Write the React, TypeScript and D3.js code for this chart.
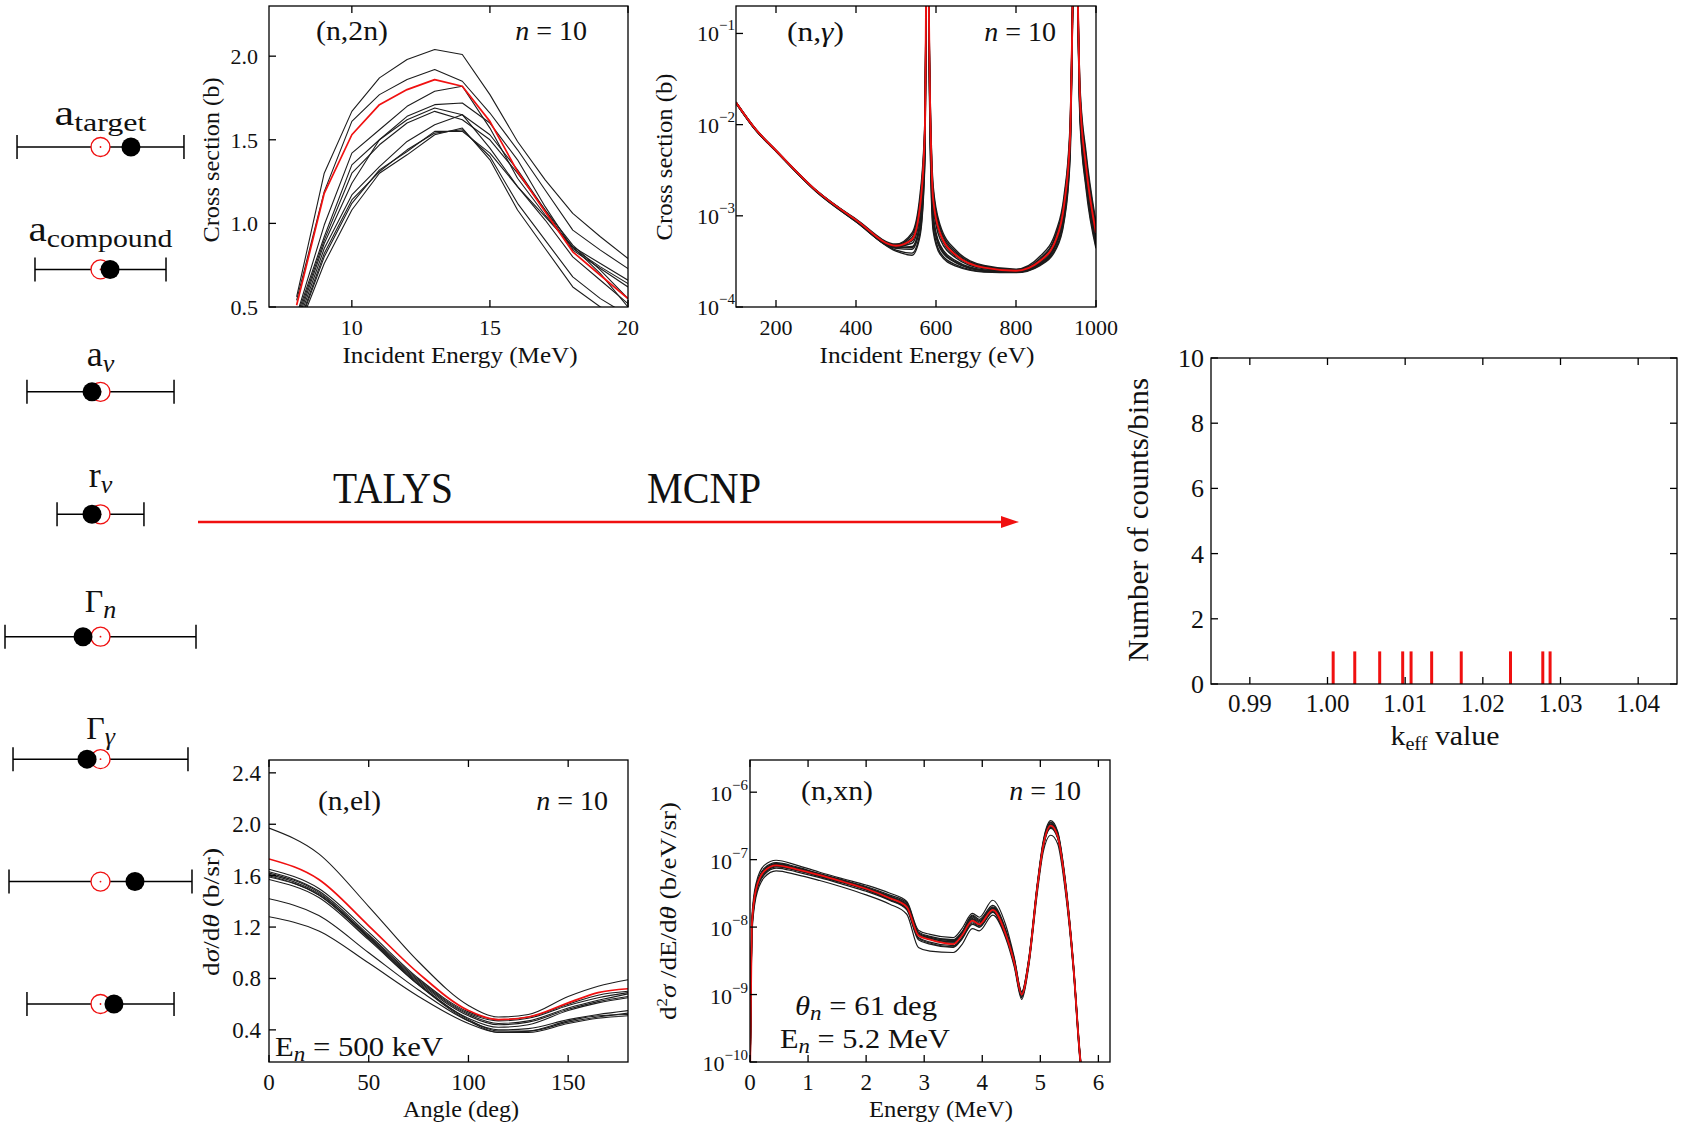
import React from "react";
import * as d3 from "d3";

const FONT = "'Liberation Serif','Times New Roman',Times,serif";
const RED = "#f01010";
const INK = "#111";
const BLACK_LINE = "#1c1c1c";

// ---------------- parameter column ----------------
const PARAM_SYMBOL = ["a", "a", "a", "r", "\u0393", "\u0393", "", ""];
const PARAM_SUB = ["target", "compound", "v", "v", "n", "\u03b3", "", ""];
const PARAM_SUB_ITALIC = [false, false, true, true, true, true, false, false];
const PARAM_LOW = [-0.874, -0.686, -0.77, -0.455, -1.0, -0.916, -0.958, -0.77];
const PARAM_HIGH = [0.874, 0.686, 0.77, 0.455, 1.0, 0.916, 0.958, 0.77];
const PARAM_NOMINAL = [0, 0, 0, 0, 0, 0, 0, 0];
const PARAM_SAMPLED = [0.319, 0.1, -0.089, -0.089, -0.183, -0.141, 0.361, 0.141];

// ---------------- (n,2n) ----------------
const N2N_ENERGY = [8, 9, 10, 11, 12, 13, 14, 15, 16, 17, 18, 19, 20];
const N2N_NOMINAL = [0.51, 1.18, 1.53, 1.71, 1.8, 1.86, 1.82, 1.61, 1.31, 1.07, 0.83, 0.69, 0.55];
const N2N_SAMPLES = [
  [0.56, 1.3, 1.67, 1.87, 1.98, 2.04, 2.01, 1.77, 1.49, 1.26, 1.06, 0.92, 0.79],
  [0.54, 1.19, 1.61, 1.77, 1.86, 1.92, 1.85, 1.66, 1.44, 1.2, 0.96, 0.84, 0.73],
  [0.45, 0.99, 1.42, 1.56, 1.7, 1.79, 1.82, 1.57, 1.27, 1.05, 0.86, 0.76, 0.66],
  [0.44, 0.92, 1.35, 1.5, 1.64, 1.71, 1.72, 1.6, 1.38, 1.1, 0.85, 0.74, 0.64],
  [0.4, 0.88, 1.24, 1.5, 1.62, 1.69, 1.65, 1.53, 1.32, 1.08, 0.84, 0.73, 0.62],
  [0.38, 0.85, 1.17, 1.34, 1.49, 1.59, 1.65, 1.45, 1.22, 1.02, 0.8, 0.66, 0.52],
  [0.36, 0.82, 1.14, 1.31, 1.44, 1.54, 1.56, 1.4, 1.12, 0.9, 0.68, 0.55, 0.45],
  [0.34, 0.76, 1.08, 1.3, 1.41, 1.53, 1.57, 1.38, 1.08, 0.85, 0.62, 0.5, 0.42],
  [0.35, 0.8, 1.12, 1.32, 1.43, 1.55, 1.55, 1.42, 1.22, 1.04, 0.86, 0.7, 0.5],
  [0.42, 0.9, 1.3, 1.47, 1.6, 1.67, 1.62, 1.5, 1.3, 1.08, 0.87, 0.72, 0.55],
];
const N2N_XTICKS = [10, 15, 20];
const N2N_YTICKS = [0.5, 1.0, 1.5, 2.0];

// ---------------- (n,gamma) ----------------
const NG_ENERGY = [100, 150, 200, 300, 400, 500, 540, 560, 572, 578, 585, 593, 610, 650, 720, 800, 860, 900, 920, 935, 948, 960, 975, 1000];
const NG_NOMINAL = [1.75e-2, 8.8e-3, 5.2e-3, 1.9e-3, 9.0e-4, 4.7e-4, 5.5e-4, 1.26e-3, 8e-3, 3, 1.9e-2, 1.5e-3, 6.5e-4, 3.7e-4, 2.7e-4, 2.5e-4, 3.2e-4, 5.5e-4, 1.3e-3, 7e-3, 3, 1.9e-2, 3.5e-3, 6.5e-4];
const NG_SAMPLES = [
  [1.72e-2, 8.6e-3, 5.1e-3, 1.85e-3, 8.6e-4, 4.2e-4, 3.9e-4, 6.5e-4, 4.0e-3, 3, 9e-3, 7.5e-4, 4.0e-4, 2.9e-4, 2.45e-4, 2.4e-4, 2.9e-4, 4.5e-4, 9e-4, 4.5e-3, 3, 1.2e-2, 2.2e-3, 4.6e-4],
  [1.74e-2, 8.7e-3, 5.15e-3, 1.88e-3, 8.8e-4, 4.5e-4, 4.6e-4, 8.5e-4, 5.5e-3, 3, 1.3e-2, 1.0e-3, 4.8e-4, 3.2e-4, 2.55e-4, 2.45e-4, 3.0e-4, 5.0e-4, 1.1e-3, 5.8e-3, 3, 1.5e-2, 2.8e-3, 5.3e-4],
  [1.76e-2, 8.8e-3, 5.2e-3, 1.9e-3, 9.1e-4, 4.8e-4, 6.2e-4, 1.5e-3, 9.5e-3, 3, 2.3e-2, 1.9e-3, 7.5e-4, 4.0e-4, 2.8e-4, 2.55e-4, 3.4e-4, 6.3e-4, 1.5e-3, 8.5e-3, 3, 2.4e-2, 4.5e-3, 8e-4],
  [1.73e-2, 8.6e-3, 5.1e-3, 1.86e-3, 8.7e-4, 4.4e-4, 4.3e-4, 7.5e-4, 4.8e-3, 3, 1.1e-2, 8.8e-4, 4.4e-4, 3.05e-4, 2.5e-4, 2.42e-4, 2.95e-4, 4.8e-4, 1.0e-3, 5.2e-3, 3, 1.35e-2, 2.5e-3, 5.0e-4],
  [1.75e-2, 8.8e-3, 5.2e-3, 1.9e-3, 9.0e-4, 4.7e-4, 5.3e-4, 1.2e-3, 7.5e-3, 3, 1.8e-2, 1.4e-3, 6.2e-4, 3.6e-4, 2.68e-4, 2.5e-4, 3.15e-4, 5.4e-4, 1.25e-3, 6.8e-3, 3, 1.85e-2, 3.3e-3, 6.2e-4],
  [1.77e-2, 8.9e-3, 5.25e-3, 1.92e-3, 9.2e-4, 4.9e-4, 6.5e-4, 1.7e-3, 1.05e-2, 3, 2.5e-2, 2.1e-3, 8e-4, 4.2e-4, 2.85e-4, 2.6e-4, 3.6e-4, 6.8e-4, 1.65e-3, 9.5e-3, 3, 2.6e-2, 5.0e-3, 8.5e-4],
  [1.74e-2, 8.7e-3, 5.15e-3, 1.88e-3, 8.9e-4, 4.6e-4, 5.0e-4, 1.0e-3, 6.5e-3, 3, 1.6e-2, 1.25e-3, 5.6e-4, 3.45e-4, 2.62e-4, 2.48e-4, 3.1e-4, 5.3e-4, 1.2e-3, 6.3e-3, 3, 1.7e-2, 3.0e-3, 5.8e-4],
  [1.72e-2, 8.6e-3, 5.1e-3, 1.85e-3, 8.6e-4, 4.1e-4, 3.7e-4, 6.0e-4, 3.6e-3, 3, 8e-3, 6.8e-4, 3.8e-4, 2.8e-4, 2.42e-4, 2.38e-4, 2.85e-4, 4.3e-4, 8.5e-4, 4.0e-3, 3, 1.1e-2, 2.0e-3, 4.4e-4],
  [1.76e-2, 8.8e-3, 5.2e-3, 1.9e-3, 9.0e-4, 4.75e-4, 5.8e-4, 1.35e-3, 8.5e-3, 3, 2.0e-2, 1.7e-3, 7.0e-4, 3.85e-4, 2.75e-4, 2.52e-4, 3.3e-4, 6.0e-4, 1.4e-3, 7.8e-3, 3, 2.1e-2, 4.0e-3, 7.2e-4],
  [1.73e-2, 8.7e-3, 5.15e-3, 1.87e-3, 8.8e-4, 4.5e-4, 4.5e-4, 8.0e-4, 5.2e-3, 3, 1.2e-2, 9.5e-4, 4.6e-4, 3.1e-4, 2.52e-4, 2.44e-4, 3.0e-4, 4.9e-4, 1.05e-3, 5.5e-3, 3, 1.4e-2, 2.6e-3, 5.0e-4],
];
const NG_XTICKS = [200, 400, 600, 800, 1000];
const NG_YTICKS = [1e-4, 1e-3, 1e-2, 1e-1];

// ---------------- (n,el) ----------------
const EL_ANGLE = [0, 25, 50, 75, 100, 115, 130, 150, 165, 180];
const EL_NOMINAL = [1.73, 1.57, 1.21, 0.84, 0.55, 0.48, 0.5, 0.61, 0.69, 0.72];
const EL_SAMPLES = [
  [1.97, 1.77, 1.36, 0.93, 0.59, 0.5, 0.52, 0.66, 0.74, 0.79],
  [1.65, 1.5, 1.16, 0.8, 0.54, 0.48, 0.5, 0.6, 0.67, 0.7],
  [1.63, 1.48, 1.14, 0.79, 0.53, 0.47, 0.49, 0.59, 0.65, 0.69],
  [1.61, 1.46, 1.13, 0.78, 0.52, 0.45, 0.47, 0.57, 0.63, 0.68],
  [1.6, 1.45, 1.12, 0.77, 0.51, 0.44, 0.46, 0.56, 0.62, 0.66],
  [1.57, 1.43, 1.1, 0.75, 0.49, 0.42, 0.44, 0.55, 0.61, 0.65],
  [1.42, 1.29, 1.0, 0.71, 0.47, 0.4, 0.41, 0.48, 0.52, 0.55],
  [1.28, 1.17, 0.92, 0.66, 0.45, 0.38, 0.39, 0.47, 0.51, 0.52],
  [1.62, 1.47, 1.12, 0.76, 0.48, 0.39, 0.39, 0.46, 0.5, 0.53],
  [1.59, 1.45, 1.11, 0.75, 0.47, 0.38, 0.38, 0.45, 0.49, 0.51],
];
const EL_XTICKS = [0, 50, 100, 150];
const EL_YTICKS = [0.4, 0.8, 1.2, 1.6, 2.0, 2.4];

// ---------------- (n,xn) ----------------
const XN_ENERGY = [0, 0.03, 0.1, 0.25, 0.45, 0.8, 1.2, 1.6, 2.0, 2.4, 2.7, 2.9, 3.1, 3.5, 3.65, 3.83, 3.95, 4.18, 4.4, 4.55, 4.68, 4.8, 4.95, 5.05, 5.18, 5.3, 5.42, 5.57, 5.68, 5.76];
const XN_NOMINAL = [5e-11, 1.0e-8, 3.5e-8, 6.8e-8, 8.2e-8, 7.2e-8, 5.9e-8, 4.7e-8, 3.7e-8, 2.7e-8, 2.0e-8, 7.5e-9, 6.5e-9, 5.6e-9, 7.5e-9, 1.25e-8, 1.1e-8, 1.8e-8, 8e-9, 3e-9, 1e-9, 3e-9, 4e-8, 1.6e-7, 3.2e-7, 2.2e-7, 5e-8, 2.6e-9, 1.3e-10, 3e-11];
const XN_SAMPLES = [
  [6e-11, 1.3e-8, 4.3e-8, 8.3e-8, 9.8e-8, 8.3e-8, 6.5e-8, 5.2e-8, 4.2e-8, 3.2e-8, 2.4e-8, 9.0e-9, 7.8e-9, 7.0e-9, 9.5e-9, 1.6e-8, 1.4e-8, 2.5e-8, 1.1e-8, 3.6e-9, 1.1e-9, 3.4e-9, 4.6e-8, 1.9e-7, 3.8e-7, 2.6e-7, 6e-8, 3.0e-9, 1.5e-10, 3e-11],
  [5e-11, 1.1e-8, 3.9e-8, 7.5e-8, 9.0e-8, 7.8e-8, 6.2e-8, 5.0e-8, 4.0e-8, 3.0e-8, 2.3e-8, 8.5e-9, 7.3e-9, 6.5e-9, 8.5e-9, 1.45e-8, 1.25e-8, 2.0e-8, 9e-9, 3.3e-9, 1.05e-9, 3.2e-9, 4.3e-8, 1.75e-7, 3.5e-7, 2.4e-7, 5.5e-8, 2.8e-9, 1.4e-10, 3e-11],
  [5e-11, 1.0e-8, 3.6e-8, 7.0e-8, 8.5e-8, 7.4e-8, 6.0e-8, 4.8e-8, 3.8e-8, 2.85e-8, 2.15e-8, 8.0e-9, 6.9e-9, 6.1e-9, 8.0e-9, 1.35e-8, 1.15e-8, 1.9e-8, 8.5e-9, 3.1e-9, 1.0e-9, 3.1e-9, 4.1e-8, 1.65e-7, 3.3e-7, 2.3e-7, 5.2e-8, 2.7e-9, 1.35e-10, 3e-11],
  [5e-11, 9e-9, 3.3e-8, 6.5e-8, 8.0e-8, 7.0e-8, 5.7e-8, 4.6e-8, 3.6e-8, 2.6e-8, 1.9e-8, 7.0e-9, 6.0e-9, 5.3e-9, 7.0e-9, 1.2e-8, 1.05e-8, 1.75e-8, 7.8e-9, 2.9e-9, 0.95e-9, 2.9e-9, 3.9e-8, 1.55e-7, 3.1e-7, 2.15e-7, 4.8e-8, 2.5e-9, 1.25e-10, 3e-11],
  [4e-11, 8e-9, 3.0e-8, 6.0e-8, 7.5e-8, 6.6e-8, 5.4e-8, 4.3e-8, 3.4e-8, 2.5e-8, 1.8e-8, 6.5e-9, 5.6e-9, 5.0e-9, 6.6e-9, 1.1e-8, 1.0e-8, 1.65e-8, 7.5e-9, 2.8e-9, 0.9e-9, 2.8e-9, 3.7e-8, 1.5e-7, 3.0e-7, 2.1e-7, 4.6e-8, 2.4e-9, 1.2e-10, 3e-11],
  [4e-11, 7e-9, 2.7e-8, 5.5e-8, 6.8e-8, 6.0e-8, 4.9e-8, 3.9e-8, 3.0e-8, 2.2e-8, 1.55e-8, 5.0e-9, 4.4e-9, 4.2e-9, 5.5e-9, 9.5e-9, 8.8e-9, 1.5e-8, 7e-9, 2.6e-9, 0.85e-9, 2.6e-9, 3.3e-8, 1.3e-7, 2.3e-7, 1.7e-7, 4.0e-8, 2.2e-9, 1.1e-10, 3e-11],
  [5e-11, 1.05e-8, 3.8e-8, 7.2e-8, 8.8e-8, 7.6e-8, 6.1e-8, 4.9e-8, 3.9e-8, 2.9e-8, 2.2e-8, 8.2e-9, 7.1e-9, 6.3e-9, 8.4e-9, 1.5e-8, 1.3e-8, 2.1e-8, 9.5e-9, 3.4e-9, 1.1e-9, 3.3e-9, 4.4e-8, 1.8e-7, 3.6e-7, 2.5e-7, 5.6e-8, 2.8e-9, 1.4e-10, 3e-11],
  [4e-11, 8.5e-9, 3.1e-8, 6.2e-8, 7.8e-8, 6.9e-8, 5.6e-8, 4.5e-8, 3.55e-8, 2.55e-8, 1.85e-8, 6.8e-9, 5.8e-9, 5.1e-9, 6.8e-9, 1.15e-8, 1.0e-8, 1.7e-8, 7.6e-9, 2.85e-9, 0.92e-9, 2.85e-9, 3.8e-8, 1.5e-7, 2.9e-7, 2.05e-7, 4.6e-8, 2.4e-9, 1.2e-10, 3e-11],
  [5e-11, 9.5e-9, 3.4e-8, 6.7e-8, 8.3e-8, 7.3e-8, 5.9e-8, 4.75e-8, 3.75e-8, 2.75e-8, 2.05e-8, 7.6e-9, 6.6e-9, 5.8e-9, 7.7e-9, 1.3e-8, 1.12e-8, 1.85e-8, 8.2e-9, 3.0e-9, 1.0e-9, 3.0e-9, 4.0e-8, 1.6e-7, 3.25e-7, 2.25e-7, 5.0e-8, 2.6e-9, 1.3e-10, 3e-11],
  [4.5e-11, 1.0e-8, 3.5e-8, 6.9e-8, 8.6e-8, 7.5e-8, 6.05e-8, 4.85e-8, 3.85e-8, 2.8e-8, 2.1e-8, 7.8e-9, 6.8e-9, 6.0e-9, 8.2e-9, 1.4e-8, 1.2e-8, 1.95e-8, 8.7e-9, 3.2e-9, 1.0e-9, 3.1e-9, 4.2e-8, 1.7e-7, 3.4e-7, 2.35e-7, 5.3e-8, 2.7e-9, 1.35e-10, 3e-11],
];
const XN_XTICKS = [0, 1, 2, 3, 4, 5, 6];
const XN_YTICKS = [1e-10, 1e-9, 1e-8, 1e-7, 1e-6];

// ---------------- k_eff histogram ----------------
const KEFF_VALUES = [1.00073, 1.00351, 1.00672, 1.00968, 1.01076, 1.01341, 1.01722, 1.02356, 1.02772, 1.02866];
const KEFF_COUNTS = [1, 1, 1, 1, 1, 1, 1, 1, 1, 1];
const KEFF_XTICKS = [0.99, 1.0, 1.01, 1.02, 1.03, 1.04];
const KEFF_YTICKS = [0, 2, 4, 6, 8, 10];

// ---------------- scales ----------------
const n2nX = d3.scaleLinear().domain([7, 20]).range([269, 628]);
const n2nY = d3.scaleLinear().domain([0.5, 2.3]).range([307, 6]);
const ngX = d3.scaleLinear().domain([100, 1000]).range([736, 1096]);
const ngY = d3.scaleLog().domain([1e-4, 0.2]).range([307, 6]);
const elX = d3.scaleLinear().domain([0, 180]).range([269, 628]);
const elY = d3.scaleLinear().domain([0.15, 2.5]).range([1062, 760]);
const xnX = d3.scaleLinear().domain([0, 6.2]).range([750, 1110]);
const xnY = d3.scaleLog().domain([1e-10, 3e-6]).range([1062, 760]);
const hX = d3.scaleLinear().domain([0.985, 1.045]).range([1211, 1677]);
const hY = d3.scaleLinear().domain([0, 10]).range([684, 358]);
const pX = d3.scaleLinear().domain([-1, 1]).range([5, 196]);
const pRow = d3.scalePoint<number>().domain(d3.range(8)).range([147, 1004]);

const LABEL_GAP = [22, 28, 26, 27, 25, 20, 0, 0];
const LABEL_LEN = [92, 144, 0, 0, 0, 0, 0, 0];

function Frame({ xs, ys, xTicks, yTicks, right = false }: any) {
  const [x0, x1] = xs.range();
  const [yb, yt] = ys.range();
  const L = 7;
  return (
    <g stroke="#000" strokeWidth={1.3} fill="none">
      <rect x={x0} y={yt} width={x1 - x0} height={yb - yt} />
      {xTicks.map((t: number, i: number) => (
        <g key={"x" + i}>
          <line x1={xs(t)} x2={xs(t)} y1={yb} y2={yb - L} />
          <line x1={xs(t)} x2={xs(t)} y1={yt} y2={yt + L} />
        </g>
      ))}
      {yTicks.map((t: number, i: number) => (
        <g key={"y" + i}>
          <line x1={x0} x2={x0 + L} y1={ys(t)} y2={ys(t)} />
          {right && <line x1={x1} x2={x1 - L} y1={ys(t)} y2={ys(t)} />}
        </g>
      ))}
    </g>
  );
}

function XLabels({ xs, ticks, y, fmt, size }: any) {
  return (
    <g fontSize={size} textAnchor="middle" fill={INK}>
      {ticks.map((t: number, i: number) => (
        <text key={i} x={xs(t)} y={y}>{fmt(t)}</text>
      ))}
    </g>
  );
}

function YLabels({ ys, ticks, xEnd, dy, fmt, size }: any) {
  return (
    <g fontSize={size} textAnchor="end" fill={INK}>
      {ticks.map((t: number, i: number) => (
        <text key={i} x={xEnd} y={ys(t) + dy}>{fmt(t)}</text>
      ))}
    </g>
  );
}

function LogYLabels({ ys, ticks, xEnd, dy, size, supSize, supDy }: any) {
  return (
    <g fontSize={size} textAnchor="end" fill={INK}>
      {ticks.map((t: number, i: number) => {
        const e = Math.round(Math.log10(t));
        return (
          <text key={i} x={xEnd} y={ys(t) + dy}>
            10<tspan fontSize={supSize} dy={supDy}>{"\u2212" + Math.abs(e)}</tspan>
          </text>
        );
      })}
    </g>
  );
}

function Curves({ id, xs, ys, xv, samples, nominal, curve, bw = 1.1, rw = 1.7 }: any) {
  const [x0, x1] = xs.range();
  const [yb, yt] = ys.range();
  const gen = d3
    .line<number>()
    .x((_, i) => xs(xv[i]))
    .y((v) => ys(v))
    .curve(curve);
  return (
    <g>
      <clipPath id={id}>
        <rect x={x0} y={yt} width={x1 - x0} height={yb - yt} />
      </clipPath>
      <g clipPath={`url(#${id})`} fill="none" strokeLinejoin="round">
        {samples.map((s: number[], k: number) => (
          <path key={k} d={gen(s) || ""} stroke={BLACK_LINE} strokeWidth={bw} />
        ))}
        <path d={gen(nominal) || ""} stroke={RED} strokeWidth={rw} />
      </g>
    </g>
  );
}

function NEq({ x, y }: any) {
  return (
    <text x={x} y={y} fontSize={28} textAnchor="end" fill={INK}>
      <tspan fontStyle="italic">n</tspan> = 10
    </text>
  );
}

const f1 = d3.format(".1f");
const f2 = d3.format(".2f");
const fInt = d3.format("d");

export default function App() {
  return (
    <div style={{ position: "absolute", left: 0, top: 0, background: "#fff" }}>
      <svg width={1682} height={1124} viewBox="0 0 1682 1124" style={{ display: "block", fontFamily: FONT }}>
        <rect width={1682} height={1124} fill="#fff" />

        {/* ---------- parameter column ---------- */}
        <g>
          {PARAM_LOW.map((lo, i) => {
            const yy = pRow(i) as number;
            const capH = 12;
            return (
              <g key={i}>
                <g stroke="#000" strokeWidth={1.5}>
                  <line x1={pX(lo)} x2={pX(PARAM_HIGH[i])} y1={yy} y2={yy} />
                  <line x1={pX(lo)} x2={pX(lo)} y1={yy - capH} y2={yy + capH} />
                  <line x1={pX(PARAM_HIGH[i])} x2={pX(PARAM_HIGH[i])} y1={yy - capH} y2={yy + capH} />
                </g>
                <circle cx={pX(PARAM_NOMINAL[i])} cy={yy} r={9.5} fill="#fff" stroke={RED} strokeWidth={1.3} />
                <circle cx={pX(PARAM_NOMINAL[i])} cy={yy} r={0.9} fill={RED} />
                <circle cx={pX(PARAM_SAMPLED[i])} cy={yy} r={9.5} fill="#000" />
                {PARAM_SYMBOL[i] && (
                  <text
                    x={pX(0)}
                    y={yy - LABEL_GAP[i]}
                    textAnchor="middle"
                    fill={INK}
                    {...(LABEL_LEN[i] ? { textLength: LABEL_LEN[i], lengthAdjust: "spacingAndGlyphs" } : {})}
                  >
                    <tspan fontSize={PARAM_SYMBOL[i] === "\u0393" ? 32 : 36}>{PARAM_SYMBOL[i]}</tspan>
                    <tspan fontSize={26} dy={6} fontStyle={PARAM_SUB_ITALIC[i] ? "italic" : "normal"}>
                      {PARAM_SUB[i]}
                    </tspan>
                  </text>
                )}
              </g>
            );
          })}
        </g>

        {/* ---------- arrow ---------- */}
        <g>
          <text x={333} y={503} fontSize={44} textLength={120} lengthAdjust="spacingAndGlyphs" fill={INK}>TALYS</text>
          <text x={647} y={503} fontSize={44} textLength={114} lengthAdjust="spacingAndGlyphs" fill={INK}>MCNP</text>
          <line x1={198} x2={1005} y1={522} y2={522} stroke={RED} strokeWidth={2.4} />
          <path d="M1019,522 L1001,516 L1001,528 Z" fill={RED} />
        </g>

        {/* ---------- (n,2n) ---------- */}
        <g>
          <Curves id="c-n2n" xs={n2nX} ys={n2nY} xv={N2N_ENERGY} samples={N2N_SAMPLES} nominal={N2N_NOMINAL} curve={d3.curveLinear} />
          <Frame xs={n2nX} ys={n2nY} xTicks={N2N_XTICKS} yTicks={N2N_YTICKS} />
          <XLabels xs={n2nX} ticks={N2N_XTICKS} y={335} fmt={fInt} size={22} />
          <YLabels ys={n2nY} ticks={N2N_YTICKS} xEnd={258} dy={8} fmt={f1} size={22} />
          <text x={460} y={363} fontSize={24} textAnchor="middle" textLength={235} lengthAdjust="spacingAndGlyphs" fill={INK}>Incident Energy (MeV)</text>
          <text transform="translate(219,160) rotate(-90)" fontSize={24} textAnchor="middle" textLength={165} lengthAdjust="spacingAndGlyphs" fill={INK}>Cross section (b)</text>
          <text x={316} y={40} fontSize={28} textLength={72} lengthAdjust="spacingAndGlyphs" fill={INK}>(n,2n)</text>
          <NEq x={587} y={40} />
        </g>

        {/* ---------- (n,gamma) ---------- */}
        <g>
          <Curves id="c-ng" xs={ngX} ys={ngY} xv={NG_ENERGY} samples={NG_SAMPLES} nominal={NG_NOMINAL} curve={d3.curveMonotoneX} bw={1.4} rw={1.9} />
          <Frame xs={ngX} ys={ngY} xTicks={NG_XTICKS} yTicks={NG_YTICKS} />
          <XLabels xs={ngX} ticks={NG_XTICKS} y={335} fmt={fInt} size={22} />
          <LogYLabels ys={ngY} ticks={NG_YTICKS} xEnd={735} dy={8} size={22} supSize={15} supDy={-11} />
          <text x={927} y={363} fontSize={24} textAnchor="middle" textLength={215} lengthAdjust="spacingAndGlyphs" fill={INK}>Incident Energy (eV)</text>
          <text transform="translate(672,157) rotate(-90)" fontSize={24} textAnchor="middle" textLength={167} lengthAdjust="spacingAndGlyphs" fill={INK}>Cross section (b)</text>
          <text x={787} y={41} fontSize={28} textLength={57} lengthAdjust="spacingAndGlyphs" fill={INK}>
            (n,<tspan fontStyle="italic">{"\u03b3"}</tspan>)
          </text>
          <NEq x={1056} y={41} />
        </g>

        {/* ---------- (n,el) ---------- */}
        <g>
          <Curves id="c-el" xs={elX} ys={elY} xv={EL_ANGLE} samples={EL_SAMPLES} nominal={EL_NOMINAL} curve={d3.curveMonotoneX} />
          <Frame xs={elX} ys={elY} xTicks={EL_XTICKS} yTicks={EL_YTICKS} />
          <XLabels xs={elX} ticks={EL_XTICKS} y={1090} fmt={fInt} size={23} />
          <YLabels ys={elY} ticks={EL_YTICKS} xEnd={261} dy={8} fmt={f1} size={23} />
          <text x={461} y={1117} fontSize={24} textAnchor="middle" textLength={116} lengthAdjust="spacingAndGlyphs" fill={INK}>Angle (deg)</text>
          <text transform="translate(219,912) rotate(-90)" fontSize={24} textAnchor="middle" textLength={128} lengthAdjust="spacingAndGlyphs" fill={INK}>
            d<tspan fontStyle="italic">{"\u03c3"}</tspan>/d<tspan fontStyle="italic">{"\u03b8"}</tspan> (b/sr)
          </text>
          <text x={318} y={810} fontSize={28} textLength={63} lengthAdjust="spacingAndGlyphs" fill={INK}>(n,el)</text>
          <NEq x={608} y={810} />
          <text x={275} y={1056} fontSize={28} textLength={168} lengthAdjust="spacingAndGlyphs" fill={INK}>
            E<tspan fontStyle="italic" fontSize={21} dy={5}>n</tspan><tspan dy={-5}> = 500 keV</tspan>
          </text>
        </g>

        {/* ---------- (n,xn) ---------- */}
        <g>
          <Curves id="c-xn" xs={xnX} ys={xnY} xv={XN_ENERGY} samples={XN_SAMPLES} nominal={XN_NOMINAL} curve={d3.curveMonotoneX} bw={1.2} rw={1.8} />
          <Frame xs={xnX} ys={xnY} xTicks={XN_XTICKS} yTicks={XN_YTICKS} />
          <XLabels xs={xnX} ticks={XN_XTICKS} y={1090} fmt={fInt} size={23} />
          <LogYLabels ys={xnY} ticks={XN_YTICKS} xEnd={748} dy={9} size={22} supSize={15} supDy={-11} />
          <text x={941} y={1117} fontSize={24} textAnchor="middle" textLength={144} lengthAdjust="spacingAndGlyphs" fill={INK}>Energy (MeV)</text>
          <text transform="translate(676,911) rotate(-90)" fontSize={24} textAnchor="middle" textLength={218} lengthAdjust="spacingAndGlyphs" fill={INK}>
            d<tspan fontSize={15} dy={-9}>2</tspan><tspan dy={9} fontStyle="italic">{"\u03c3"}</tspan> /dE/d<tspan fontStyle="italic">{"\u03b8"}</tspan> (b/eV/sr)
          </text>
          <text x={801} y={800} fontSize={28} textLength={72} lengthAdjust="spacingAndGlyphs" fill={INK}>(n,xn)</text>
          <NEq x={1081} y={800} />
          <text x={795} y={1015} fontSize={28} textLength={142} lengthAdjust="spacingAndGlyphs" fill={INK}>
            <tspan fontStyle="italic">{"\u03b8"}</tspan><tspan fontStyle="italic" fontSize={21} dy={5}>n</tspan><tspan dy={-5}> = 61 deg</tspan>
          </text>
          <text x={780} y={1048} fontSize={28} textLength={170} lengthAdjust="spacingAndGlyphs" fill={INK}>
            E<tspan fontStyle="italic" fontSize={21} dy={5}>n</tspan><tspan dy={-5}> = 5.2 MeV</tspan>
          </text>
        </g>

        {/* ---------- k_eff histogram ---------- */}
        <g>
          <g stroke={RED} strokeWidth={3}>
            {KEFF_VALUES.map((k, i) => (
              <line key={i} x1={hX(k)} x2={hX(k)} y1={hY(0)} y2={hY(KEFF_COUNTS[i])} />
            ))}
          </g>
          <Frame xs={hX} ys={hY} xTicks={KEFF_XTICKS} yTicks={KEFF_YTICKS} right />
          <XLabels xs={hX} ticks={KEFF_XTICKS} y={712} fmt={f2} size={25} />
          <YLabels ys={hY} ticks={KEFF_YTICKS} xEnd={1204} dy={9} fmt={fInt} size={26} />
          <text x={1445} y={745} fontSize={28} textAnchor="middle" textLength={109} lengthAdjust="spacingAndGlyphs" fill={INK}>
            k<tspan fontSize={19} dy={5}>eff</tspan><tspan dy={-5}> value</tspan>
          </text>
          <text transform="translate(1148,520) rotate(-90)" fontSize={29} textAnchor="middle" textLength={284} lengthAdjust="spacingAndGlyphs" fill={INK}>
            Number of counts/bins
          </text>
        </g>
      </svg>
    </div>
  );
}
